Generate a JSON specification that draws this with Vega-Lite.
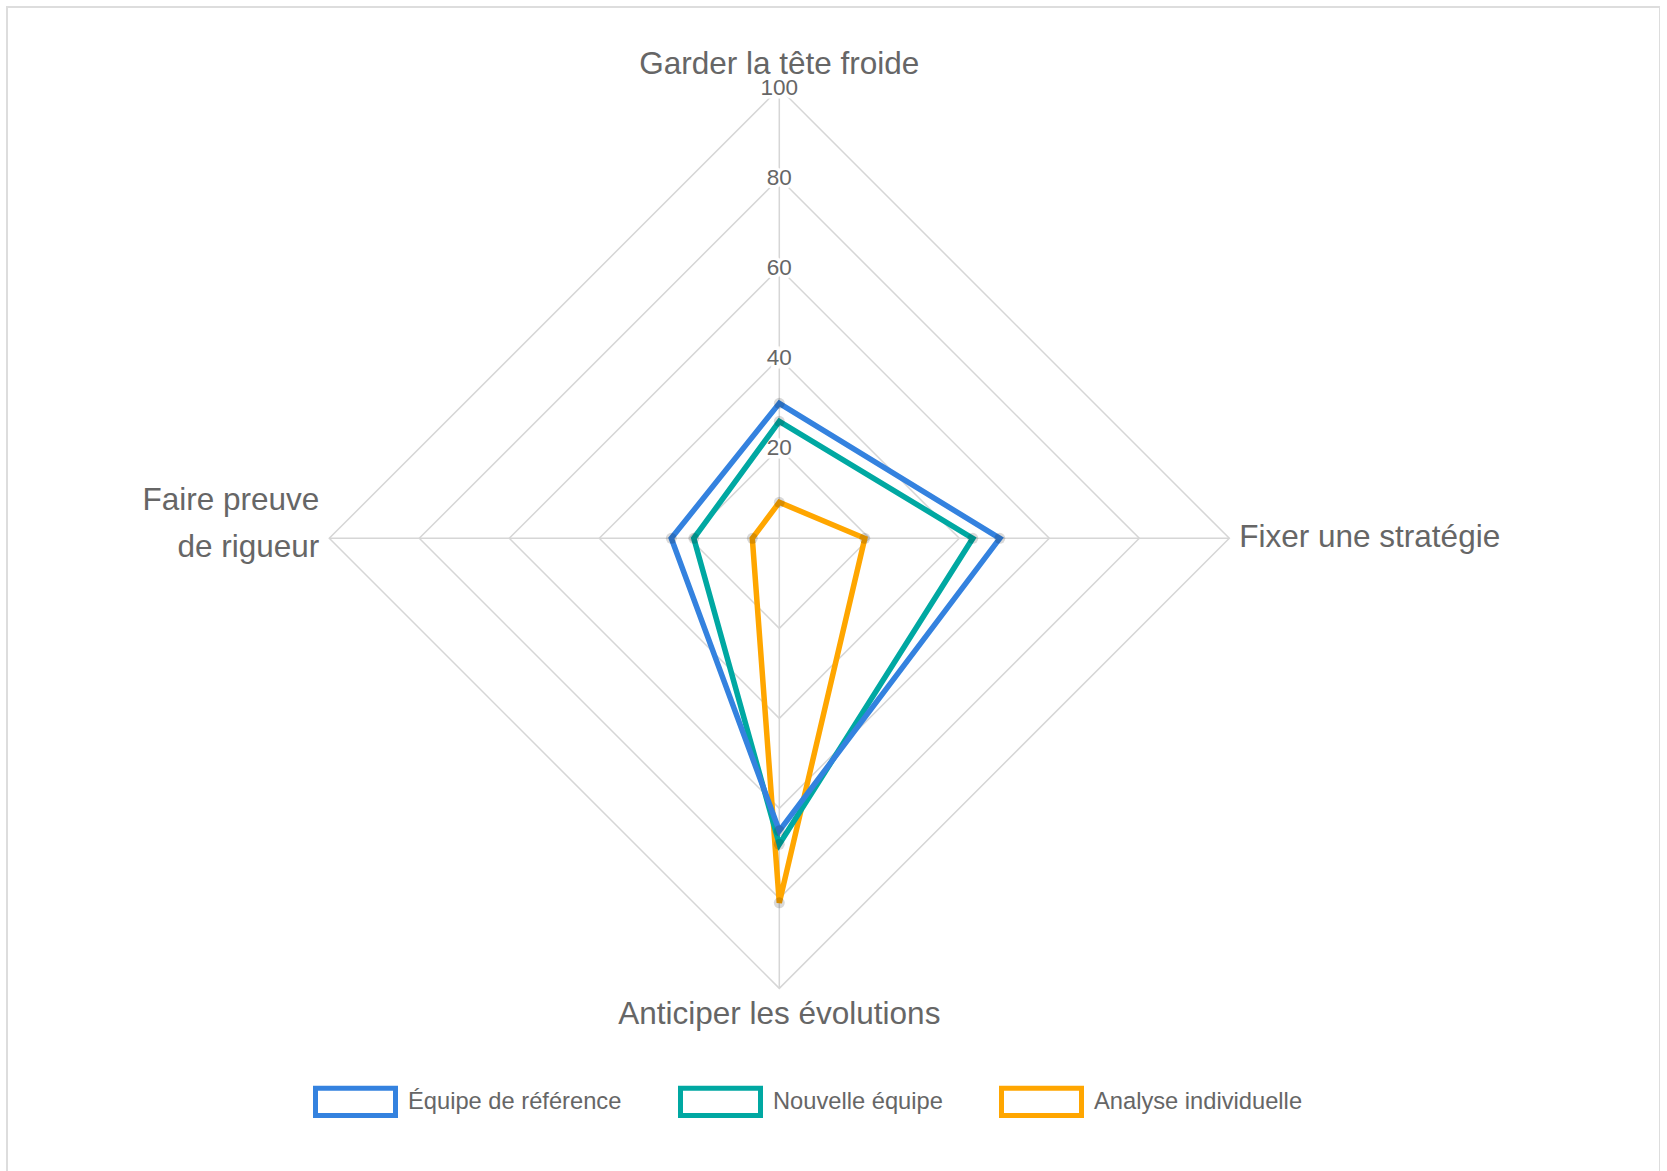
{
  "$schema": "https://vega.github.io/schema/vega-lite/v6.json",
  "width": 1653,
  "height": 1170,
  "autosize": "none",
  "padding": {"left": 7, "top": 7, "right": 0, "bottom": 0},
  "background": "white",
  "config": {
    "view": {"stroke": "#dddddd", "strokeWidth": 2},
    "font": "Liberation Sans"
  },
  "datasets": {
    "series": [
      {"serie": "Équipe de référence", "idx": 0, "value": 30},
      {"serie": "Équipe de référence", "idx": 1, "value": 49},
      {"serie": "Équipe de référence", "idx": 2, "value": 65},
      {"serie": "Équipe de référence", "idx": 3, "value": 24},
      {"serie": "Nouvelle équipe", "idx": 0, "value": 26},
      {"serie": "Nouvelle équipe", "idx": 1, "value": 43},
      {"serie": "Nouvelle équipe", "idx": 2, "value": 68},
      {"serie": "Nouvelle équipe", "idx": 3, "value": 19},
      {"serie": "Analyse individuelle", "idx": 0, "value": 8},
      {"serie": "Analyse individuelle", "idx": 1, "value": 19},
      {"serie": "Analyse individuelle", "idx": 2, "value": 81},
      {"serie": "Analyse individuelle", "idx": 3, "value": 6}
    ],
    "grid": [
      {"level": 20, "idx": 0, "value": 20}, {"level": 20, "idx": 1, "value": 20}, {"level": 20, "idx": 2, "value": 20}, {"level": 20, "idx": 3, "value": 20},
      {"level": 40, "idx": 0, "value": 40}, {"level": 40, "idx": 1, "value": 40}, {"level": 40, "idx": 2, "value": 40}, {"level": 40, "idx": 3, "value": 40},
      {"level": 60, "idx": 0, "value": 60}, {"level": 60, "idx": 1, "value": 60}, {"level": 60, "idx": 2, "value": 60}, {"level": 60, "idx": 3, "value": 60},
      {"level": 80, "idx": 0, "value": 80}, {"level": 80, "idx": 1, "value": 80}, {"level": 80, "idx": 2, "value": 80}, {"level": 80, "idx": 3, "value": 80},
      {"level": 100, "idx": 0, "value": 100}, {"level": 100, "idx": 1, "value": 100}, {"level": 100, "idx": 2, "value": 100}, {"level": 100, "idx": 3, "value": 100}
    ],
    "labels": [
      {"idx": 0, "value": 100, "label": "Garder la tête froide"},
      {"idx": 1, "value": 100, "label": "Fixer une stratégie"},
      {"idx": 2, "value": 100, "label": "Anticiper les évolutions"},
      {"idx": 3, "value": 100, "label": ["Faire preuve", "de rigueur"]}
    ]
  },
  "layer": [
    {
      "data": {"name": "grid"},
      "transform": [
        {"calculate": "datum.idx == 1 ? datum.value : (datum.idx == 3 ? -datum.value : 0)", "as": "px"},
        {"calculate": "datum.idx == 0 ? datum.value : (datum.idx == 2 ? -datum.value : 0)", "as": "py"}
      ],
      "mark": {"type": "line", "interpolate": "linear-closed", "stroke": "#d6d6d6", "strokeWidth": 1.5},
      "encoding": {
        "x": {"field": "px", "type": "quantitative", "scale": {"domain": [-171.62, 195.71], "nice": false, "zero": false}, "axis": null},
        "y": {"field": "py", "type": "quantitative", "scale": {"domain": [-141.93, 118.07], "nice": false, "zero": false}, "axis": null},
        "detail": {"field": "level"},
        "order": {"field": "idx"}
      }
    },
    {
      "data": {"name": "grid"},
      "transform": [
        {"filter": "datum.level == 100"},
        {"calculate": "datum.idx == 1 ? datum.value : (datum.idx == 3 ? -datum.value : 0)", "as": "px"},
        {"calculate": "datum.idx == 0 ? datum.value : (datum.idx == 2 ? -datum.value : 0)", "as": "py"}
      ],
      "mark": {"type": "rule", "stroke": "#d6d6d6", "strokeWidth": 1.5},
      "encoding": {
        "x": {"field": "px", "type": "quantitative"},
        "y": {"field": "py", "type": "quantitative"},
        "x2": {"datum": 0},
        "y2": {"datum": 0}
      }
    },
    {
      "data": {"name": "grid"},
      "transform": [{"filter": "datum.idx == 0"}],
      "mark": {"type": "text", "fontSize": 22.5, "stroke": "white", "strokeWidth": 7, "fill": "white", "baseline": "middle", "align": "center"},
      "encoding": {
        "x": {"datum": 0, "type": "quantitative"},
        "y": {"field": "value", "type": "quantitative"},
        "text": {"field": "level"}
      }
    },
    {
      "data": {"name": "grid"},
      "transform": [{"filter": "datum.idx == 0"}],
      "mark": {"type": "text", "fontSize": 22.5, "fill": "#666666", "baseline": "middle", "align": "center"},
      "encoding": {
        "x": {"datum": 0, "type": "quantitative"},
        "y": {"field": "value", "type": "quantitative"},
        "text": {"field": "level"}
      }
    },
    {
      "data": {"name": "series"},
      "transform": [
        {"filter": "datum.serie == 'Analyse individuelle'"},
        {"calculate": "datum.idx == 1 ? datum.value : (datum.idx == 3 ? -datum.value : 0)", "as": "px"},
        {"calculate": "datum.idx == 0 ? datum.value : (datum.idx == 2 ? -datum.value : 0)", "as": "py"}
      ],
      "mark": {"type": "line", "interpolate": "linear-closed", "strokeWidth": 5.5, "strokeJoin": "miter"},
      "encoding": {
        "x": {"field": "px", "type": "quantitative"},
        "y": {"field": "py", "type": "quantitative"},
        "order": {"field": "idx"},
        "color": {
          "field": "serie",
          "type": "nominal",
          "scale": {"domain": ["Équipe de référence", "Nouvelle équipe", "Analyse individuelle"], "range": ["#3482df", "#00a8a2", "#ffa600"]},
          "legend": {
            "orient": "none",
            "legendX": 306,
            "legendY": 1052,
            "direction": "horizontal",
            "title": null,
            "padding": 0,
            "symbolType": "M-1,-0.34H1V0.34H-1Z",
            "symbolSize": 6400,
            "symbolStrokeWidth": 5,
            "labelFontSize": 23.7,
            "labelColor": "#666666",
            "labelFont": "Liberation Sans",
            "labelOffset": 10,
            "labelLimit": 400,
            "columnPadding": 48,
            "encode": {"symbols": {"update": {"fill": {"value": "white"}, "strokeWidth": {"value": 5}, "opacity": {"value": 1}}}}
          }
        }
      }
    },
    {
      "data": {"name": "series"},
      "transform": [
        {"filter": "datum.serie == 'Nouvelle équipe'"},
        {"calculate": "datum.idx == 1 ? datum.value : (datum.idx == 3 ? -datum.value : 0)", "as": "px"},
        {"calculate": "datum.idx == 0 ? datum.value : (datum.idx == 2 ? -datum.value : 0)", "as": "py"}
      ],
      "mark": {"type": "line", "interpolate": "linear-closed", "strokeWidth": 5.5, "strokeJoin": "miter"},
      "encoding": {
        "x": {"field": "px", "type": "quantitative"},
        "y": {"field": "py", "type": "quantitative"},
        "order": {"field": "idx"},
        "color": {"field": "serie", "type": "nominal"}
      }
    },
    {
      "data": {"name": "series"},
      "transform": [
        {"filter": "datum.serie == 'Équipe de référence'"},
        {"calculate": "datum.idx == 1 ? datum.value : (datum.idx == 3 ? -datum.value : 0)", "as": "px"},
        {"calculate": "datum.idx == 0 ? datum.value : (datum.idx == 2 ? -datum.value : 0)", "as": "py"}
      ],
      "mark": {"type": "line", "interpolate": "linear-closed", "strokeWidth": 5.5, "strokeJoin": "miter"},
      "encoding": {
        "x": {"field": "px", "type": "quantitative"},
        "y": {"field": "py", "type": "quantitative"},
        "order": {"field": "idx"},
        "color": {"field": "serie", "type": "nominal"}
      }
    },
    {
      "data": {"name": "series"},
      "transform": [
        {"calculate": "datum.idx == 1 ? datum.value : (datum.idx == 3 ? -datum.value : 0)", "as": "px"},
        {"calculate": "datum.idx == 0 ? datum.value : (datum.idx == 2 ? -datum.value : 0)", "as": "py"}
      ],
      "mark": {"type": "point", "filled": true, "fill": "#000000", "fillOpacity": 0.15, "size": 120, "strokeWidth": 0},
      "encoding": {
        "x": {"field": "px", "type": "quantitative"},
        "y": {"field": "py", "type": "quantitative"}
      }
    },
    {
      "data": {"name": "labels"},
      "transform": [{"filter": "datum.idx == 0"}],
      "mark": {"type": "text", "fontSize": 31.5, "fill": "#666666", "align": "center", "baseline": "middle", "dy": -23},
      "encoding": {
        "x": {"datum": 0, "type": "quantitative"},
        "y": {"field": "value", "type": "quantitative"},
        "text": {"field": "label"}
      }
    },
    {
      "data": {"name": "labels"},
      "transform": [{"filter": "datum.idx == 2"}, {"calculate": "-datum.value", "as": "value"}],
      "mark": {"type": "text", "fontSize": 31.5, "fill": "#666666", "align": "center", "baseline": "middle", "dy": 27},
      "encoding": {
        "x": {"datum": 0, "type": "quantitative"},
        "y": {"field": "value", "type": "quantitative"},
        "text": {"field": "label"}
      }
    },
    {
      "data": {"name": "labels"},
      "transform": [{"filter": "datum.idx == 1"}],
      "mark": {"type": "text", "fontSize": 31.5, "fill": "#666666", "align": "left", "baseline": "middle", "dx": 10},
      "encoding": {
        "x": {"field": "value", "type": "quantitative"},
        "y": {"datum": 0, "type": "quantitative"},
        "text": {"field": "label"}
      }
    },
    {
      "data": {"name": "labels"},
      "transform": [{"filter": "datum.idx == 3"}, {"calculate": "-datum.value", "as": "value"}],
      "mark": {"type": "text", "fontSize": 31.5, "fill": "#666666", "align": "right", "baseline": "middle", "dx": -10, "dy": -37, "lineHeight": 47},
      "encoding": {
        "x": {"field": "value", "type": "quantitative"},
        "y": {"datum": 0, "type": "quantitative"},
        "text": {"field": "label"}
      }
    }
  ]
}
